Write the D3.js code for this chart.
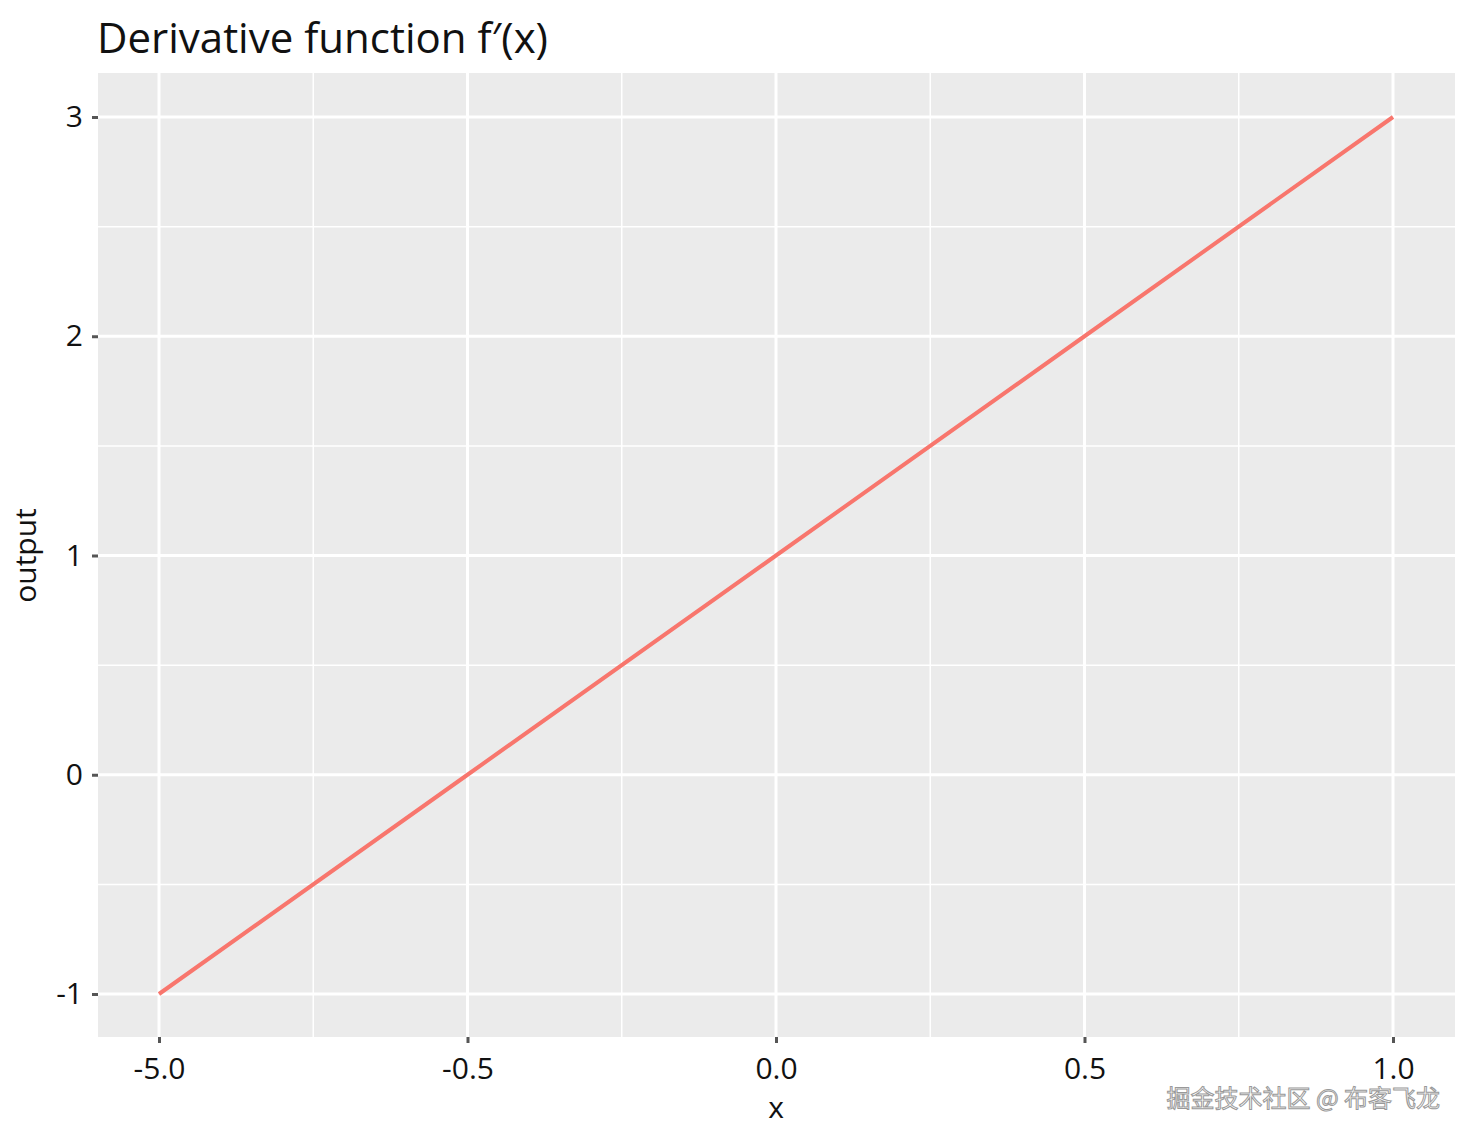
<!DOCTYPE html>
<html><head><meta charset="utf-8">
<script src="https://cdn.jsdelivr.net/npm/d3@7"></script>
<style>body{margin:0;background:#fff;font-family:"Open Sans",sans-serif}</style>
</head><body>
<svg id="chart" width="1471" height="1141"></svg>
<script>
var xValues = [-1, -0.5, 0, 0.5, 1];
var yValues = [-1, 0, 1, 2, 3];
var xTicks = [-1, -0.5, 0, 0.5, 1];
var xTickLabels = ["-5.0", "-0.5", "0.0", "0.5", "1.0"];
var yTicks = [-1, 0, 1, 2, 3];
var yTickLabels = ["-1", "0", "1", "2", "3"];
var minorX = [-0.75, -0.25, 0.25, 0.75];
var minorY = [-0.5, 0.5, 1.5, 2.5];

var svg = d3.select("#chart");
var pLeft = 98, pRight = 1455, pTop = 73, pBottom = 1037;
var x = d3.scaleLinear().domain([-1, 1]).range([159, 1393]);
var y = d3.scaleLinear().domain([-1, 3]).range([994, 117]);

svg.append("rect").attr("x", pLeft).attr("y", pTop).attr("width", pRight - pLeft).attr("height", pBottom - pTop).attr("fill", "#ebebeb");

svg.selectAll(".mx").data(minorX).enter().append("line")
    .attr("x1", d => x(d)).attr("x2", d => x(d)).attr("y1", pTop).attr("y2", pBottom)
    .attr("stroke", "#fff").attr("stroke-width", 1.5);
svg.selectAll(".my").data(minorY).enter().append("line")
    .attr("y1", d => y(d)).attr("y2", d => y(d)).attr("x1", pLeft).attr("x2", pRight)
    .attr("stroke", "#fff").attr("stroke-width", 1.5);
svg.selectAll(".gx").data(xTicks).enter().append("line")
    .attr("x1", d => x(d)).attr("x2", d => x(d)).attr("y1", pTop).attr("y2", pBottom)
    .attr("stroke", "#fff").attr("stroke-width", 3);
svg.selectAll(".gy").data(yTicks).enter().append("line")
    .attr("y1", d => y(d)).attr("y2", d => y(d)).attr("x1", pLeft).attr("x2", pRight)
    .attr("stroke", "#fff").attr("stroke-width", 3);

var xAxis = svg.append("g").attr("transform", "translate(0," + pBottom + ")")
    .call(d3.axisBottom(x).tickValues(xTicks).tickSize(6).tickFormat((d, i) => xTickLabels[i]));
var yAxis = svg.append("g").attr("transform", "translate(" + pLeft + ",0)")
    .call(d3.axisLeft(y).tickValues(yTicks).tickSize(6).tickFormat((d, i) => yTickLabels[i]));
[xAxis, yAxis].forEach(function (a) {
    a.select(".domain").remove();
    a.selectAll(".tick line").attr("stroke", "#555").attr("stroke-width", 3);
    a.selectAll("text").attr("font-size", 30).attr("fill", "#111").attr("font-family", "Open Sans");
});
xAxis.selectAll("text").attr("dy", "1.1em");
yAxis.selectAll("text").attr("dx", "-0.2em");

svg.append("path").datum(d3.range(xValues.length))
    .attr("fill", "none").attr("stroke", "#f8766d").attr("stroke-width", 4)
    .attr("d", d3.line().x(i => x(xValues[i])).y(i => y(yValues[i])));

svg.append("text").attr("x", 97).attr("y", 53).attr("font-size", 42).attr("fill", "#111").text("Derivative function f\u2032(x)");
svg.append("text").attr("x", x(0)).attr("y", 1118).attr("text-anchor", "middle").attr("font-size", 30).attr("fill", "#111").text("x");
svg.append("text").attr("transform", "translate(36," + y(1) + ") rotate(-90)").attr("text-anchor", "middle").attr("font-size", 30).attr("fill", "#111").text("output");
svg.append("text").attr("x", 1440).attr("y", 1107).attr("text-anchor", "end").attr("font-size", 24)
    .attr("font-family", "Noto Sans CJK SC").attr("fill", "#fff").attr("stroke", "#999").attr("stroke-width", 1)
    .text("掘金技术社区 @ 布客飞龙");
</script>
</body></html>
